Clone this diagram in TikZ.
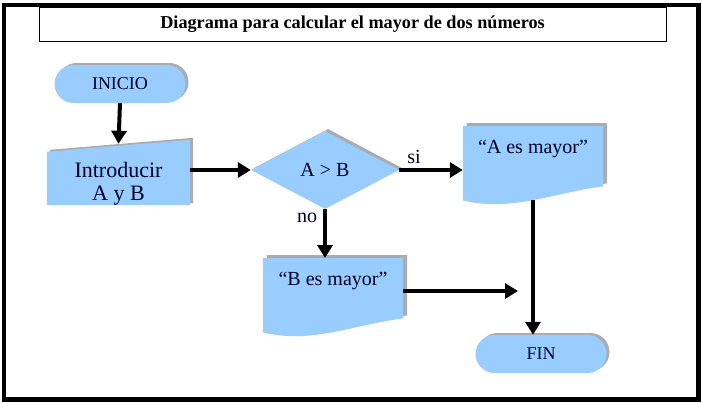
\documentclass[tikz,border=0pt]{standalone}
\usepackage{fontspec}
\setmainfont{Liberation Serif}
\usetikzlibrary{shapes.geometric,shapes.misc,shadows,arrows.meta,calc,backgrounds}
\definecolor{celeste}{RGB}{153,204,255}
\definecolor{sombra}{RGB}{172,172,172}

\newcommand{\hoja}[1]{%
    \fill[sombra] ($(#1.north west)+(4,-3)$) -- ($(#1.north east)+(4,-3)$)
        -- ($(#1.south east)+(4,-17)$)
        .. controls ($(#1.south west)!0.65!(#1.south east)+(4,-11)$)
        and ($(#1.south west)!0.35!(#1.south east)+(4,9)$) .. ($(#1.south west)+(4,-3)$) -- cycle;
    \fill[celeste] (#1.north west) -- (#1.north east) -- ($(#1.south east)+(0,-14)$)
        .. controls ($(#1.south west)!0.65!(#1.south east)+(0,-8)$)
        and ($(#1.south west)!0.35!(#1.south east)+(0,12)$) .. (#1.south west) -- cycle;
}

\begin{document}
\begin{tikzpicture} [
    x=1pt, y=-1pt,
    every node/.style = {font=\fontsize{20}{23}\selectfont, text=black!85!blue},
    caja/.style = {fill=celeste, draw=none,
        copy shadow={shadow xshift=3pt, shadow yshift=2pt, fill=sombra, draw=none, opacity=1}},
    term/.style = {caja, rounded rectangle, minimum width=131pt, minimum height=38pt, inner sep=0pt,
        font=\fontsize{18}{21}\selectfont},
    decision/.style = {caja, diamond, minimum width=148pt, minimum height=78pt, inner sep=0pt},
    doc/.style = {minimum width=140pt, inner sep=0pt, text height=27pt, text depth=47pt},
    flecha/.style = {line width=4pt, -{Triangle[length=13pt, width=15pt]}},
    etiq/.style = {inner sep=0pt}
]
    \useasboundingbox (0,0) rectangle (702,402);
    \draw[line width=4.5pt] (4,5) rectangle (698.5,399.3);

    \node[draw, line width=0.8pt, minimum width=627pt, minimum height=34pt,
        font=\fontsize{18.2}{21}\selectfont\bfseries, text=black] (titulo) at (352.5,24)
        {Diagrama para calcular el mayor de dos números};

    \node[term] (inicio) at (120,84) {INICIO};
    \node[minimum width=143pt, minimum height=43pt, inner sep=0pt, align=center,
        font=\fontsize{22}{23}\selectfont] (intro) at (118.5,183.5) {Introducir\\A y B};
    \node[decision] (cond) at (325,170) {A > B};
    \node[doc, anchor=north] (amay) at (533,126) {“A es mayor”};
    \node[doc, anchor=north] (bmay) at (333,258) {“B es mayor”};
    \node[term] (fin) at (541,354) {FIN};
    \coordinate (llegada) at (518,291);

    \begin{scope}[on background layer]
        \fill[sombra] ($(intro.south west)+(3,-2)$) -- ($(intro.north west)+(3,-12)$)
            -- ($(intro.north east)+(3,-24)$) -- ($(intro.south east)+(3,-2)$) -- cycle;
        \fill[celeste] (intro.south west) -- ($(intro.north west)+(0,-10)$)
            -- ($(intro.north east)+(0,-22)$) -- (intro.south east) -- cycle;
        \hoja{amay}
        \hoja{bmay}
    \end{scope}

    \draw[flecha] (inicio.south) -- ($(intro.north)+(0,-18)$);
    \draw[flecha] (intro.east |- cond.west) -- (cond.west);
    \draw[flecha] (cond.east) -- (cond.east -| amay.west);
    \draw[flecha] (cond.south) -- (cond.south |- bmay.north);
    \draw[flecha] (amay.south) -- (amay.south |- fin.north);
    \draw[flecha] (bmay.east |- llegada) -- (llegada);

    \node[etiq] (si) at (414,157) {si};
    \node[etiq] (no) at (307,218) {no};
\end{tikzpicture}
\end{document}
